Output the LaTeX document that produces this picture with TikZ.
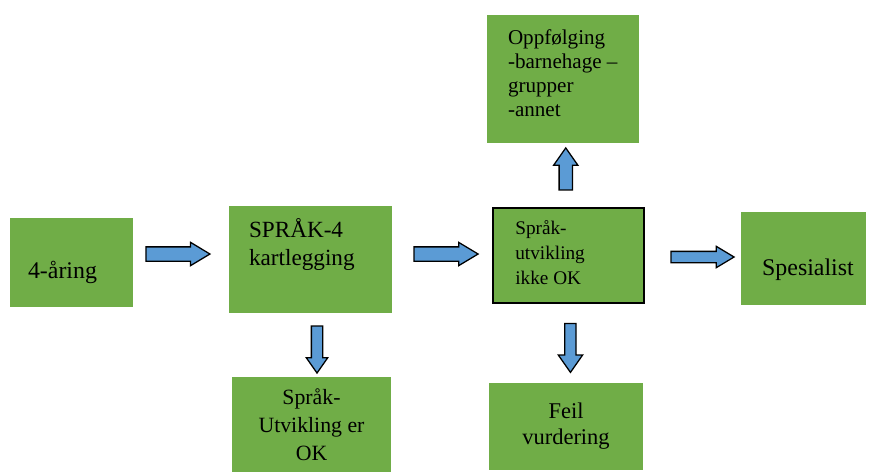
\documentclass[tikz,border=0pt]{standalone}
\usepackage{fontspec}
\setmainfont{Liberation Serif}
\usepackage{tikz}
\usetikzlibrary{shapes.arrows,calc}
\usepackage{xcolor}
\definecolor{spGreen}{HTML}{70AD47}
\definecolor{spBlue}{HTML}{5B9BD5}
\tikzset{
    % green boxes without border
    gbox/.style={rectangle, fill=spGreen, inner sep=0pt, align=center},
    % box text
    btext/.style={inner sep=0pt, align=left, text=black},
    % blue block arrows with black outline
    barrow/.style={single arrow, draw=black, line width=0.9pt, fill=spBlue, single arrow head indent=0pt}
}

\begin{document}
\begin{tikzpicture}[
    fsA/.style={font=\fontsize{17}{20}\selectfont},
    fsB/.style={font=\fontsize{16.5}{19.9}\selectfont},
    fsC/.style={font=\fontsize{13.7}{17.7}\selectfont},
    fsD/.style={font=\fontsize{15}{17}\selectfont},
    fsE/.style={font=\fontsize{15.5}{20}\selectfont},
    fsF/.style={font=\fontsize{16}{18.4}\selectfont},
    harrow/.style={barrow, inner sep=0.1625cm, minimum height=1.6cm, minimum width=0.55cm, single arrow head extend=0.1125cm, single arrow tip angle=62},
    varrow/.style={barrow, inner sep=0.125cm, minimum height=1.2cm, minimum width=0.5cm, single arrow head extend=0.125cm, single arrow tip angle=70}
]
    \useasboundingbox (0,0) rectangle (21.8,-11.825);

    % boxes
    \node[gbox, minimum width=3.075cm, minimum height=2.225cm] (four) at (1.7875,-6.5625) {};
    \node[gbox, minimum width=4.075cm, minimum height=2.675cm] (kart) at (7.7625,-6.4875) {};
    \node[gbox, draw=black, line width=1.4pt, minimum width=3.775cm, minimum height=2.375cm] (ikke) at (14.2125,-6.3875) {};
    \node[gbox, minimum width=3.8cm, minimum height=3.2cm] (oppf) at (14.075,-1.975) {};
    \node[gbox, minimum width=3.125cm, minimum height=2.325cm] (spes) at (20.0875,-6.4625) {};
    \node[gbox, fsE, minimum width=3.975cm, minimum height=2.375cm] (ok) at (7.7875,-10.6125) {Språk-\\Utvikling er\\OK};
    \node[gbox, fsF, minimum width=3.85cm, minimum height=2.175cm] (feil) at (14.15,-10.6625) {Feil\\vurdering};

    % texts
    \node[btext, fsA, anchor=base west] (fourT) at ([shift={(0.45,-0.3875)}]four.west) {4-åring};
    \node[btext, fsB, anchor=north west] (kartT) at ([shift={(0.5,-0.3)}]kart.north west) {SPRÅK-4\\kartlegging};
    \node[btext, fsC, anchor=north west] (ikkeT) at ([shift={(0.575,-0.325)}]ikke.north west) {Språk-\\utvikling\\ikke OK};
    \node[btext, fsD, anchor=north west] (oppfT) at ([shift={(0.525,-0.375)}]oppf.north west) {Oppfølging\\-barnehage --\\grupper\\-annet};
    \node[btext, fsA, anchor=base] (spesT) at ([shift={(0.1125,-0.4125)}]spes.center) {Spesialist};

    % block arrows
    \node[harrow] (a1) at ($(four.east)!0.5!(kart.west)+(-0.225,0.175)$) {};
    \node[harrow] (a2) at ($(kart.east)!0.5!(ikke.west)+(-0.05,0.0875)$) {};
    \node[harrow, inner sep=0.125cm, minimum height=1.575cm, minimum width=0.5cm, single arrow head extend=0.125cm] (a3) at ($(ikke.east)!0.5!(spes.west)+(0.125,0)$) {};
    \node[varrow, shape border rotate=90, inner sep=0.15cm, minimum height=1.05cm, minimum width=0.575cm, single arrow head extend=0.1375cm] (a4) at ($(ikke.north)!0.5!(oppf.south)+(0,0.0375)$) {};
    \node[varrow, shape border rotate=270, minimum height=1.175cm] (a5) at ($(kart.south)!0.5!(ok.north)+(0.15,-0.0125)$) {};
    \node[varrow, shape border rotate=270, minimum height=1.225cm, minimum width=0.575cm, single arrow head extend=0.1625cm] (a6) at ($(ikke.south)!0.5!(feil.north)+(0.08,-0.0125)$) {};

\end{tikzpicture}
\end{document}
